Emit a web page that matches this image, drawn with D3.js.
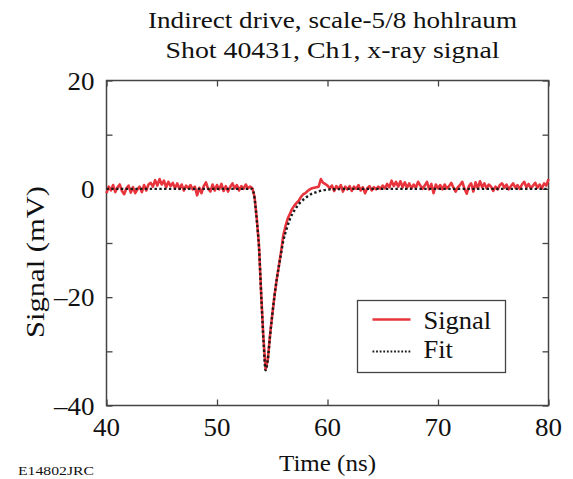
<!DOCTYPE html>
<html>
<head>
<meta charset="utf-8">
<script src="https://cdn.jsdelivr.net/npm/d3@7"></script>
<style>
  body { margin: 0; background: #fff; }
  svg text { font-family: "Times New Roman", "Liberation Serif", Tinos, Times, serif; fill: #111; }
</style>
</head>
<body>
<script>
// x-ray signal, sampled every 0.2 ns from 40 ns
var signalStart = 40;
var signalStep = 0.2;
var signal = [
  -0.8, 0.4, -0.3, 0.7, -0.6,   // 40
  0.3, 0.8, -0.4, -1.0, 0.1,    // 41
  0.6, -0.7, 0.3, -0.8, -0.1,   // 42
  0.4, -0.6, 0.7, -0.3, 0.8,    // 43
  1.1, 0.4, 1.6, 0.6, 1.8,      // 44
  0.8, 1.5, 0.3, 1.3, 0.5,      // 45
  1.1, 0.1, 1.0, 0.0, 0.8,      // 46
  -0.3, 0.6, 0.1, 0.7, -0.1,    // 47
  0.4, -1.2, 0.2, -0.8, 0.5,    // 48
  1.2, 0.0, -0.5, 0.8, -0.3,    // 49
  0.7, -0.1, 0.9, -0.4, 0.5,    // 50
  -0.5, 0.4, 1.0, 0.1, 0.7,     // 51
  -0.3, 0.5, 0.0, 0.8, 0.1,     // 52
  0.4, 0.1, -1.5, -5.5, -10.5,  // 53
  -19.5, -27.5, -33.3, -31.5, -27.0, // 54
  -23.3, -19.8, -16.8, -14.2, -11.6, // 55
  -8.6, -6.9, -5.5, -4.6, -3.7,      // 56
  -3.1, -2.6, -2.2, -1.5, -1.0,      // 57
  -0.8, -0.4, -0.1, 0.1, 0.2,        // 58
  0.3, 0.4, 1.8, 1.1, 0.9,      // 59
  0.6, 0.1, 0.6, -0.4, 0.5,     // 60
  0.0, 0.7, -0.5, 0.4, -0.1,    // 61
  0.5, -0.4, 0.4, 0.0, 0.7,     // 62
  -0.3, 0.3, -0.8, 0.1, 0.5,    // 63
  -0.3, 0.3, -0.1, 0.4, 0.0,    // 64
  0.6, 0.1, 0.9, 0.3, 1.5,      // 65
  0.5, 1.3, 0.4, 1.4, 0.3,      // 66
  1.2, 0.2, 1.0, 0.1, 0.8,      // 67
  0.2, 1.3, 0.6, 0.0, 0.6,      // 68
  1.3, -0.1, 0.9, -0.8, 0.8,    // 69
  0.1, 0.7, -0.1, 0.8, 0.1,     // 70
  0.5, 1.1, 0.2, -0.5, 0.3,     // 71
  0.7, 1.3, 0.0, -0.9, 0.5,     // 72
  1.0, -0.5, 1.2, 0.1, 1.4,     // 73
  0.3, 1.0, 0.1, 0.8, 0.4,      // 74
  -0.4, 0.4, -0.1, 0.7, 1.0,    // 75
  0.2, 0.8, -0.1, 0.5, 1.0,     // 76
  0.2, 0.7, 0.0, 0.8, 1.3,      // 77
  0.3, 0.9, 0.1, 0.6, 1.1,      // 78
  0.2, 0.8, 0.1, 1.0, 0.6,      // 79
  1.8                           // 80
];

// fitted pulse
var fitTime = [40, 53.2, 53.4, 53.6, 53.8, 54.0, 54.2, 54.4, 54.6, 54.8, 55.0, 55.2, 55.4, 55.6, 55.8,
  56.0, 56.3, 56.6, 57.0, 57.5, 58.0, 58.5, 59.0, 59.5, 60.0, 61, 62, 80];
var fitValue = [0, 0, -1.8, -5.8, -10.8, -19.5, -27.8, -33.5, -31.5, -27.2, -23.3, -19.8, -16.8, -14.3, -11.9,
  -9.6, -7.4, -5.6, -4.0, -2.6, -1.7, -1.0, -0.6, -0.3, -0.15, -0.05, 0, 0];

var xTicks = [40, 50, 60, 70, 80];
var yTicks = [20, 10, 0, -10, -20, -30, -40];
var yLabels = [20, 0, -20, -40];
var titleLines = ["Indirect drive, scale-5/8 hohlraum", "Shot 40431, Ch1, x-ray signal"];
var legendNames = ["Signal", "Fit"];

var width = 573, height = 479;
var margin = {top: 80.5, right: 24.5, bottom: 73.5, left: 106.5};
var w = width - margin.left - margin.right;
var h = height - margin.top - margin.bottom;

var red = "#e8343c";

var svg = d3.select("body").append("svg")
  .attr("width", width)
  .attr("height", height);

var g = svg.append("g")
  .attr("transform", "translate(" + margin.left + "," + margin.top + ")");

var x = d3.scaleLinear().domain([40, 80]).range([0, w]);
var y = d3.scaleLinear().domain([-40, 20]).range([h, 0]);

// ticks inside the frame, on all four sides
var tickLen = 6;
g.append("g").call(d3.axisBottom(x).tickValues(xTicks).tickSize(-tickLen).tickFormat(""))
  .attr("transform", "translate(0," + h + ")");
g.append("g").call(d3.axisTop(x).tickValues(xTicks).tickSize(-tickLen).tickFormat(""));
g.append("g").call(d3.axisLeft(y).tickValues(yTicks).tickSize(-tickLen).tickFormat(""));
g.append("g").call(d3.axisRight(y).tickValues(yTicks).tickSize(-tickLen).tickFormat(""))
  .attr("transform", "translate(" + w + ",0)");
g.selectAll(".domain").remove();
g.selectAll(".tick line").attr("stroke", "#444").attr("stroke-width", 1.3);

g.append("rect")
  .attr("width", w).attr("height", h)
  .attr("fill", "none")
  .attr("stroke", "#444")
  .attr("stroke-width", 1.5);

// tick labels (the source lettering is a little wider than the font)
g.selectAll(".xlab").data(xTicks).enter().append("text")
  .attr("transform", function(d) { return "translate(" + x(d) + "," + (h + 30) + ") scale(1.08,1)"; })
  .attr("text-anchor", "middle")
  .style("font-size", "25px")
  .text(function(d) { return d; });

g.selectAll(".ylab").data(yLabels).enter().append("text")
  .attr("transform", function(d) { return "translate(-12," + (y(d) + 9) + ") scale(1.08,1)"; })
  .attr("text-anchor", "end")
  .style("font-size", "25px")
  .text(function(d) { return d < 0 ? "\u2013" + Math.abs(d) : d; });

// traces
var sigData = signal.map(function(v, i) { return {t: signalStart + i * signalStep, v: v}; });
var fitData = fitTime.map(function(t, i) { return {t: t, v: fitValue[i]}; });

var line = d3.line()
  .x(function(d) { return x(d.t); })
  .y(function(d) { return y(d.v); });

g.append("path")
  .datum(sigData)
  .attr("fill", "none")
  .attr("stroke", red)
  .attr("stroke-width", 2.6)
  .attr("stroke-linejoin", "round")
  .attr("d", line);

g.append("path")
  .datum(fitData)
  .attr("fill", "none")
  .attr("stroke", "#1a1a1a")
  .attr("stroke-width", 2.4)
  .attr("stroke-dasharray", "2.4,2.4")
  .attr("d", d3.line().curve(d3.curveMonotoneX).x(function(d) { return x(d.t); }).y(function(d) { return y(d.v); }));

// legend
var lg = svg.append("g").attr("transform", "translate(357.5,300.5)");
lg.append("rect")
  .attr("width", 148).attr("height", 72)
  .attr("fill", "#fff")
  .attr("stroke", "#444")
  .attr("stroke-width", 1.3);
lg.append("line")
  .attr("x1", 15).attr("x2", 53).attr("y1", 19).attr("y2", 19)
  .attr("stroke", red).attr("stroke-width", 2.4);
lg.append("line")
  .attr("x1", 15).attr("x2", 53).attr("y1", 51).attr("y2", 51)
  .attr("stroke", "#1a1a1a").attr("stroke-width", 1.8)
  .attr("stroke-dasharray", "1.8,1.8");
lg.selectAll(".ltxt").data(legendNames).enter().append("text")
  .attr("transform", function(d, i) { return "translate(66," + (28 + i * 29) + ") scale(1.06,1)"; })
  .style("font-size", "25px")
  .text(function(d) { return d; });

// titles
var titleWidths = [369, 334];
svg.selectAll(".title").data(titleLines).enter().append("text")
  .attr("x", function(d, i) { return 332.5 - titleWidths[i] / 2; })
  .attr("y", function(d, i) { return 28 + i * 30; })
  .attr("textLength", function(d, i) { return titleWidths[i]; })
  .attr("lengthAdjust", "spacingAndGlyphs")
  .style("font-size", "24px")
  .text(function(d) { return d; });

svg.append("text")
  .attr("x", 279)
  .attr("y", 471)
  .attr("textLength", 97)
  .attr("lengthAdjust", "spacingAndGlyphs")
  .style("font-size", "24px")
  .text("Time (ns)");

svg.append("text")
  .attr("transform", "translate(44,338) rotate(-90)")
  .attr("textLength", 152)
  .attr("lengthAdjust", "spacingAndGlyphs")
  .style("font-size", "25px")
  .text("Signal (mV)");

svg.append("text")
  .attr("x", 18)
  .attr("y", 475)
  .attr("textLength", 76)
  .attr("lengthAdjust", "spacingAndGlyphs")
  .style("font-size", "13px")
  .text("E14802JRC");
</script>
</body>
</html>
